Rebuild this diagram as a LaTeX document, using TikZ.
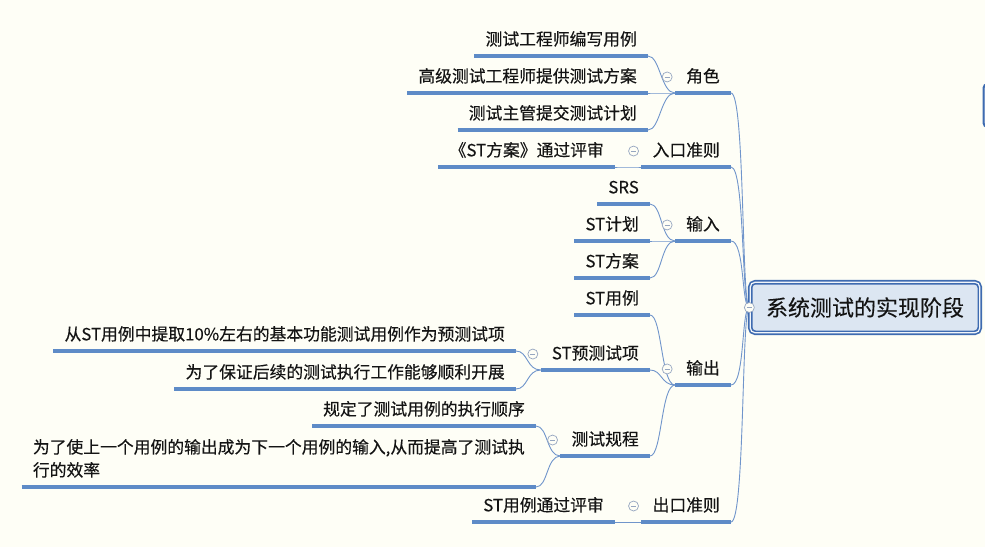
\documentclass[tikz,border=0pt]{standalone}
\usepackage{fontspec}
\setmainfont[FakeBold=0.3]{Noto Sans CJK SC}
\usetikzlibrary{positioning}
\definecolor{paper}{RGB}{254,254,246}
\definecolor{barblue}{RGB}{94,139,199}
\definecolor{wirec}{RGB}{112,149,203}
\definecolor{foldc}{RGB}{150,166,192}
\definecolor{rootfill}{RGB}{220,230,242}
\definecolor{rootline}{RGB}{62,107,176}
\definecolor{ink}{RGB}{20,20,20}
\tikzset {
  % plain topic, text sits on its underline
  topic/.style = {
    anchor = south east,
    inner xsep = 11pt,
    inner ysep = 7pt,
    text depth = 3.5pt,
    text = ink,
    font = \fontsize{16.8}{23}\selectfont
  },
  % central topic
  central/.style = {
    draw = rootline,
    line width = 1.7pt,
    double = rootfill!40!white,
    double distance = 1.2pt,
    fill = rootfill,
    rounded corners = 5pt,
    minimum width = 229.6pt,
    minimum height = 50.6pt,
    text = ink,
    font = \fontsize{22}{26}\selectfont
  },
  underbar/.style = {
    draw = barblue,
    line width = 3.2pt
  },
  wire/.style = {
    draw = wirec,
    line width = 0.9pt
  },
  % collapse button
  fold/.style = {
    circle,
    draw = foldc,
    fill = paper,
    line width = 0.7pt,
    minimum size = 10pt,
    inner sep = 0pt,
    path picture = {
      \draw[foldc, line width = 0.7pt]
        ([xshift=-2.6pt]path picture bounding box.center) --
        ([xshift=2.6pt]path picture bounding box.center);
    }
  }
}
\begin{document}
\begin{tikzpicture}[x=1pt, y=-1pt]
    \fill[paper] (0,0) rectangle (985,547);
    \useasboundingbox (0,0) rectangle (985,547);

    \node[central] (root) at (865,307.5) {系统测试的实现阶段};

    \node[topic] (role) at (731,93) {角色};
    \node[topic] (entry) at (731,167) {入口准则};
    \node[topic] (input) at (731,241) {输入};
    \node[topic] (output) at (731,385) {输出};
    \node[topic] (exit) at (731,522) {出口准则};

    \node[topic] (role-a) at (648,56) {测试工程师编写用例};
    \node[topic] (role-b) at (648,93) {高级测试工程师提供测试方案};
    \node[topic] (role-c) at (648,130) {测试主管提交测试计划};
    \node[topic] (entry-a) at (615,167) {《ST方案》通过评审};
    \node[topic] (input-a) at (650,204) {SRS};
    \node[topic] (input-b) at (650,241) {ST计划};
    \node[topic] (input-c) at (650,278) {ST方案};
    \node[topic] (output-a) at (650,315) {ST用例};
    \node[topic] (output-b) at (650,370) {ST预测试项};
    \node[topic] (output-c) at (650,456) {测试规程};
    \node[topic] (exit-a) at (615,522) {ST用例通过评审};

    \node[topic] (pre-a) at (516,351) {从ST用例中提取10\%左右的基本功能测试用例作为预测试项};
    \node[topic] (pre-b) at (516,389) {为了保证后续的测试执行工作能够顺利开展};
    \node[topic] (proc-a) at (536,426) {规定了测试用例的执行顺序};
    \node[topic, align=left] (proc-b) at (536,487) {为了使上一个用例的输出成为下一个用例的输入,从而提高了测试执\\行的效率};

    \foreach \c in {role,entry,input,output,exit}
      \draw[wire] (root.west) .. controls +(-8,0) and +(14,0) .. (\c.south east);
    \foreach \p/\c in {role/role-a,role/role-b,role/role-c,entry/entry-a,input/input-a,input/input-b,input/input-c,output/output-a,output/output-b,output/output-c,exit/exit-a,output-b/pre-a,output-b/pre-b,output-c/proc-a,output-c/proc-b}
      \draw[wire] (\p.south west) .. controls +(-14,0) and +(12,0) .. (\c.south east);

    \foreach \n in {role,entry,input,output,exit,role-a,role-b,role-c,entry-a,input-a,input-b,input-c,output-a,output-b,output-c,exit-a,pre-a,pre-b,proc-a,proc-b}
      \draw[underbar] (\n.south west) -- (\n.south east);

    \foreach \n in {role,entry,input,output,exit,output-b,output-c}
      \node[fold, left=2.5pt of \n] (\n-fold) {};
    \node[fold] (root-fold) at (root.west) {};

    % edge of a topic cut off by the page
    \begin{scope}
      \clip (0,0) rectangle (985,547);
      \draw[rootline, line width=2pt, fill=rootfill, rounded corners=4pt] (983.5,84) rectangle (1010,127);
    \end{scope}
\end{tikzpicture}
\end{document}
